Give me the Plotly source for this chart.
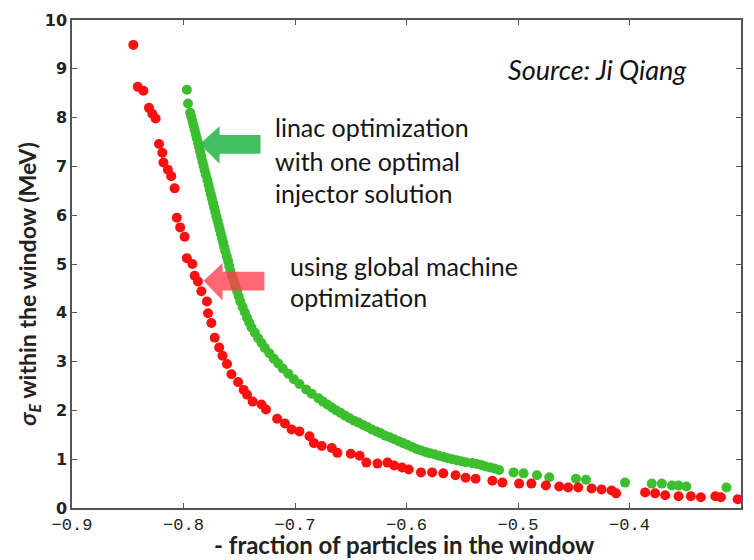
import plotly.graph_objects as go

# ---- data ----
green_x = [-0.797, -0.796, -0.794, -0.793, -0.792, -0.791, -0.790, -0.789, -0.788, -0.787,
           -0.786, -0.785, -0.784, -0.783, -0.782, -0.781, -0.780, -0.7785, -0.7775, -0.7765,
           -0.7755, -0.7745, -0.7735, -0.7725, -0.7715, -0.7705, -0.7695, -0.7685, -0.7675, -0.7665,
           -0.7655, -0.7645, -0.7635, -0.7625, -0.7612, -0.760, -0.759, -0.758, -0.7565, -0.755,
           -0.7535, -0.752, -0.7505, -0.749, -0.747, -0.745, -0.743, -0.741, -0.739, -0.736,
           -0.733, -0.730, -0.727, -0.723, -0.719, -0.715, -0.711, -0.706, -0.701, -0.696,
           -0.690, -0.685, -0.679, -0.675, -0.671, -0.667, -0.663, -0.659, -0.655, -0.651,
           -0.647, -0.643, -0.639, -0.635, -0.631, -0.627, -0.623, -0.619, -0.615, -0.611,
           -0.607, -0.603, -0.599, -0.595, -0.591, -0.587, -0.583, -0.579, -0.575, -0.571,
           -0.567, -0.563, -0.559, -0.555, -0.551, -0.547, -0.541, -0.537, -0.533, -0.529,
           -0.525, -0.521, -0.517,
           -0.504, -0.495, -0.483, -0.472, -0.448, -0.439, -0.404, -0.380, -0.371, -0.362,
           -0.356, -0.349, -0.313]
green_y = [8.57, 8.29, 8.10, 8.02, 7.93, 7.84, 7.75, 7.66, 7.57, 7.48,
           7.39, 7.30, 7.20, 7.10, 7.01, 6.92, 6.83, 6.72, 6.62, 6.52,
           6.43, 6.34, 6.25, 6.16, 6.07, 5.98, 5.89, 5.80, 5.71, 5.62,
           5.53, 5.44, 5.35, 5.26, 5.16, 5.06, 4.96, 4.86, 4.76, 4.66,
           4.55, 4.45, 4.34, 4.23, 4.12, 4.01, 3.90, 3.80, 3.70, 3.59,
           3.48, 3.38, 3.28, 3.17, 3.06, 2.96, 2.86, 2.75, 2.64, 2.54,
           2.43, 2.34, 2.25, 2.18, 2.12, 2.06, 2.00, 1.95, 1.89, 1.84,
           1.79, 1.75, 1.70, 1.66, 1.61, 1.57, 1.53, 1.48, 1.45, 1.41,
           1.37, 1.33, 1.29, 1.25, 1.21, 1.18, 1.15, 1.12, 1.10, 1.07,
           1.05, 1.02, 1.00, 0.98, 0.96, 0.94, 0.92, 0.90, 0.88, 0.85,
           0.83, 0.81, 0.78,
           0.73, 0.71, 0.67, 0.63, 0.60, 0.58, 0.52, 0.50, 0.50, 0.46,
           0.46, 0.44, 0.42]

red_x = [-0.845, -0.841, -0.836, -0.831, -0.828, -0.825, -0.822, -0.819, -0.818, -0.814,
         -0.811, -0.808, -0.806, -0.803, -0.799, -0.797, -0.792, -0.790, -0.787, -0.784,
         -0.779, -0.778, -0.775, -0.772, -0.768, -0.765, -0.761, -0.757, -0.751, -0.746,
         -0.743, -0.738, -0.730, -0.726, -0.716, -0.709, -0.703, -0.696, -0.687, -0.683,
         -0.676, -0.667, -0.662, -0.650, -0.642, -0.636, -0.626, -0.617, -0.611, -0.604,
         -0.598, -0.587, -0.577, -0.567, -0.556, -0.547, -0.538, -0.523, -0.514, -0.499,
         -0.488, -0.475, -0.463, -0.455, -0.446, -0.434, -0.425, -0.416, -0.412, -0.386,
         -0.377, -0.368, -0.356, -0.345, -0.336, -0.323, -0.318, -0.303]
red_y = [9.49, 8.63, 8.55, 8.20, 8.08, 7.98, 7.46, 7.28, 7.08, 6.93,
         6.80, 6.55, 5.95, 5.75, 5.56, 5.12, 5.00, 4.76, 4.64, 4.44,
         4.23, 3.99, 3.79, 3.49, 3.29, 3.12, 2.95, 2.74, 2.58, 2.42,
         2.32, 2.18, 2.12, 2.02, 1.83, 1.73, 1.61, 1.57, 1.47, 1.33,
         1.27, 1.23, 1.13, 1.11, 1.07, 0.93, 0.91, 0.93, 0.87, 0.83,
         0.79, 0.73, 0.73, 0.71, 0.67, 0.62, 0.60, 0.56, 0.52, 0.50,
         0.50, 0.46, 0.44, 0.42, 0.42, 0.40, 0.38, 0.36, 0.30, 0.32,
         0.30, 0.26, 0.24, 0.24, 0.22, 0.24, 0.22, 0.18]

x_ticks = [-0.9, -0.8, -0.7, -0.6, -0.5, -0.4, -0.3]
x_ticklabels = ["\u22120.9", "\u22120.8", "\u22120.7", "\u22120.6", "\u22120.5", "\u22120.4", "\u22120.3"]
y_ticks = [0, 1, 2, 3, 4, 5, 6, 7, 8, 9, 10]

# ---- layout geometry (pixels) ----
W, H = 754, 560
L, R, T, B = 72, 11, 12, 52
PW, PH = W - L - R, H - T - B


def px(xp, yp):
    return (xp - L) / PW, (H - B - yp) / PH


def poly(points):
    pts = [px(a, b) for a, b in points]
    return "M " + " L ".join(f"{a:.4f},{b:.4f}" for a, b in pts) + " Z"


fig = go.Figure()
fig.add_trace(go.Scatter(x=green_x, y=green_y, mode="markers",
                         marker=dict(color="#3cbe2e", size=10, line=dict(width=0)),
                         showlegend=False))
fig.add_trace(go.Scatter(x=red_x, y=red_y, mode="markers",
                         marker=dict(color="#ff1010", size=10, line=dict(width=0)),
                         showlegend=False))

axis_common = dict(showline=True, linecolor="#555555", linewidth=1.5, mirror="ticks",
                   ticks="inside", ticklen=5, tickcolor="#555555", tickwidth=1.2,
                   showgrid=False, zeroline=False)

fig.update_layout(
    width=W, height=H,
    margin=dict(l=L, r=R, t=T, b=B),
    paper_bgcolor="white", plot_bgcolor="white",
    xaxis=dict(range=[-0.9, -0.3], tickvals=x_ticks, ticktext=x_ticklabels,
               tickfont=dict(family="Liberation Mono", size=17, color="#222222"),
               **axis_common),
    yaxis=dict(range=[0, 10], tickvals=y_ticks,
               tickfont=dict(family="DejaVu Sans", size=16, color="#222222", weight="bold"),
               **axis_common),
)

# arrows
green_arrow = [(200, 138), (220, 120), (220, 129), (261, 129), (261, 148), (220, 148), (220, 158)]
red_arrow = [(204, 277), (223, 259), (223, 268), (265, 268), (265, 287), (223, 287), (223, 297)]
fig.add_shape(type="path", path=poly(green_arrow), xref="paper", yref="paper",
              fillcolor="rgba(45,185,80,0.9)", line=dict(width=0), layer="above")
fig.add_shape(type="path", path=poly(red_arrow), xref="paper", yref="paper",
              fillcolor="rgba(255,60,75,0.78)", line=dict(width=0), layer="above")

txt_font = dict(family="Lato", size=25, color="#151515")


def add_text(text, xp, yp, font, xanchor="left", angle=0):
    xx, yy = px(xp, yp)
    fig.add_annotation(text=text, x=xx, y=yy, xref="paper", yref="paper",
                       xanchor=xanchor, yanchor="middle", showarrow=False,
                       font=font, textangle=angle, borderpad=0)


add_text("linac optimization", 275, 121, txt_font)
add_text("with one optimal", 275, 155, txt_font)
add_text("injector solution", 275, 188, txt_font)
add_text("using global machine", 290, 262, txt_font)
add_text("optimization", 290, 294, txt_font)
add_text("<i>Source: Ji Qiang</i>", 508, 62, dict(family="Lato", size=27, color="#111111"))
add_text("<b>- fraction of particles in the window</b>", 405, 545,
         dict(family="Lato", size=24, color="#222222"), xanchor="center")
add_text("<b><i>σ</i><sub><i>E</i></sub> within the window (MeV)</b>", 29, 280,
         dict(family="Lato", size=23, color="#222222"), xanchor="center", angle=-90)

fig.write_html("out.html")
